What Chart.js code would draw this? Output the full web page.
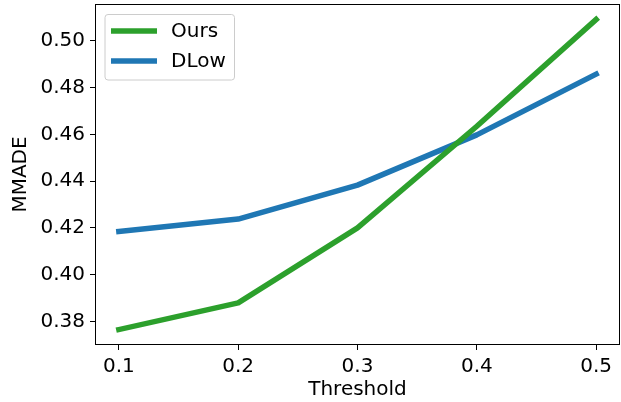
<!DOCTYPE html>
<html>
<head>
<meta charset="utf-8">
<script src="https://cdn.jsdelivr.net/npm/chart.js@4/dist/chart.umd.min.js"></script>
<style>
  html, body { margin: 0; padding: 0; background: #fff; }
  #wrap { width: 621px; height: 402px; }
</style>
</head>
<body>
<div id="wrap"><canvas id="c" width="621" height="402"></canvas></div>
<script>
const thresholds = [0.1, 0.2, 0.3, 0.4, 0.5];
const oursValues = [0.3765, 0.3879, 0.4200, 0.4635, 0.5092];
const dlowValues = [0.4185, 0.4238, 0.4383, 0.4598, 0.4858];
const xTickValues = [0.1, 0.2, 0.3, 0.4, 0.5];
const yTickValues = [0.38, 0.40, 0.42, 0.44, 0.46, 0.48, 0.50];
const seriesLabels = ['Ours', 'DLow'];

const FONT = 'DejaVu Sans';
const FS = 20;

const frame = {
  id: 'frame',
  afterDatasetsDraw(chart) {
    const {ctx, chartArea: a} = chart;
    ctx.save();
    ctx.strokeStyle = '#000';
    ctx.lineWidth = 1;
    ctx.strokeRect(Math.round(a.left) + 0.5, Math.round(a.top) + 0.5,
                   Math.round(a.right - a.left) - 1, Math.round(a.bottom - a.top) - 1);
    // legend
    const x0 = 105, y0 = 14.5, w = 129.5, h = 65.5, r = 3;
    ctx.beginPath();
    ctx.moveTo(x0 + r, y0);
    ctx.lineTo(x0 + w - r, y0); ctx.quadraticCurveTo(x0 + w, y0, x0 + w, y0 + r);
    ctx.lineTo(x0 + w, y0 + h - r); ctx.quadraticCurveTo(x0 + w, y0 + h, x0 + w - r, y0 + h);
    ctx.lineTo(x0 + r, y0 + h); ctx.quadraticCurveTo(x0, y0 + h, x0, y0 + h - r);
    ctx.lineTo(x0, y0 + r); ctx.quadraticCurveTo(x0, y0, x0 + r, y0);
    ctx.closePath();
    ctx.fillStyle = 'rgba(255,255,255,0.8)';
    ctx.fill();
    ctx.strokeStyle = '#cccccc';
    ctx.lineWidth = 1;
    ctx.stroke();
    const rows = [31, 61];
    chart.data.datasets.forEach((ds, i) => {
      ctx.beginPath();
      ctx.strokeStyle = ds.borderColor;
      ctx.lineWidth = ds.borderWidth;
      ctx.lineCap = 'butt';
      ctx.moveTo(111, rows[i]);
      ctx.lineTo(157, rows[i]);
      ctx.stroke();
      ctx.fillStyle = '#000';
      ctx.font = FS + 'px "' + FONT + '"';
      ctx.textBaseline = 'middle';
      ctx.textAlign = 'left';
      ctx.fillText(ds.label, 171, rows[i] + 1);
    });
    ctx.restore();
  }
};

new Chart(document.getElementById('c'), {
  type: 'line',
  data: {
    datasets: [
      { label: seriesLabels[0], data: thresholds.map((x, i) => ({x, y: oursValues[i]})),
        borderColor: '#2ca02c', borderWidth: 5.5, pointRadius: 0, fill: false,
        borderCapStyle: 'square', borderJoinStyle: 'round', tension: 0 },
      { label: seriesLabels[1], data: thresholds.map((x, i) => ({x, y: dlowValues[i]})),
        borderColor: '#1f77b4', borderWidth: 5.5, pointRadius: 0, fill: false,
        borderCapStyle: 'square', borderJoinStyle: 'round', tension: 0 }
    ]
  },
  options: {
    responsive: false,
    animation: false,
    devicePixelRatio: 1,
    layout: { padding: { top: 4, right: 1, left: 0, bottom: 0 } },
    plugins: { legend: { display: false }, tooltip: { enabled: false } },
    scales: {
      x: {
        type: 'linear', min: 0.08, max: 0.52,
        afterBuildTicks(s) { s.ticks = xTickValues.map(v => ({value: v})); },
        afterFit(s) { s.height = 57; s.paddingLeft = 0; s.paddingRight = 0; },
        grid: { drawOnChartArea: false, drawTicks: true, tickLength: 5, color: '#000', lineWidth: 1 },
        border: { display: false },
        ticks: { autoSkip: false, maxRotation: 0, padding: 5, color: '#000',
                 font: { family: FONT, size: FS },
                 callback: v => Number(v).toFixed(1) },
        title: { display: true, text: 'Threshold', color: '#000',
                 font: { family: FONT, size: FS }, padding: { top: 0, bottom: 0 } }
      },
      y: {
        type: 'linear', min: 0.3699, max: 0.5158,
        afterBuildTicks(s) { s.ticks = yTickValues.map(v => ({value: v})); },
        afterFit(s) { s.width = 95; s.paddingTop = 0; s.paddingBottom = 0; },
        grid: { drawOnChartArea: false, drawTicks: true, tickLength: 5, color: '#000', lineWidth: 1 },
        border: { display: false },
        ticks: { autoSkip: false, padding: 5, color: '#000',
                 font: { family: FONT, size: FS },
                 callback: v => Number(v).toFixed(2) },
        title: { display: true, text: 'MMADE', color: '#000',
                 font: { family: FONT, size: FS }, padding: { top: 9, bottom: 0 } }
      }
    }
  },
  plugins: [frame]
});
</script>
</body>
</html>
